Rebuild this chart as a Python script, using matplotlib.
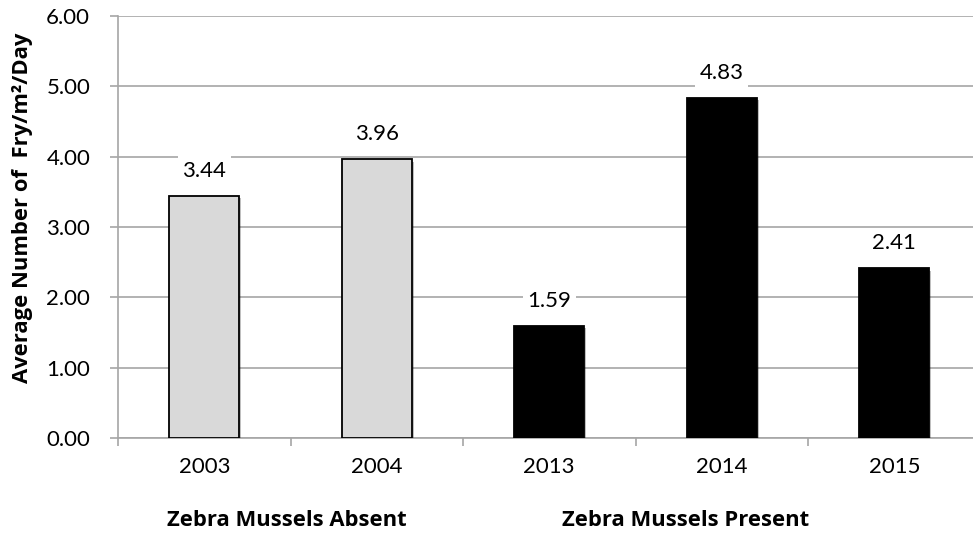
import matplotlib
matplotlib.use("Agg")
import matplotlib.pyplot as plt
import matplotlib.patheffects as pe
from matplotlib.transforms import blended_transform_factory

years = ["2003", "2004", "2013", "2014", "2015"]
fry_per_day = [3.44, 3.96, 1.59, 4.83, 2.41]
bar_colors = ["#d9d9d9", "#d9d9d9", "#000000", "#000000", "#000000"]
group_labels = ["Zebra Mussels Absent", "Zebra Mussels Present"]
group_label_x = [0.48, 2.79]
y_ticks = [0, 1, 2, 3, 4, 5, 6]

plt.rcParams["font.family"] = ["Lato", "DejaVu Sans"]
BOLD = ["Open Sans", "DejaVu Sans"]

W, H = 973, 533
fig = plt.figure(figsize=(W / 100, H / 100), dpi=100)
left, right, top, bottom = 118, 980.5, 16, 438
ax = fig.add_axes([left / W, 1 - bottom / H, (right - left) / W, (bottom - top) / H])

x = list(range(len(years)))
bars = ax.bar(x, fry_per_day, width=0.405, color=bar_colors,
              edgecolor="#000000", linewidth=1.3, zorder=3)
for b in bars:
    b.set_path_effects([pe.SimplePatchShadow(offset=(1.5, -1.5), shadow_rgbFace="#000000", alpha=0.25),
                        pe.Normal()])

for xi, v in zip(x, fry_per_day):
    ax.annotate(f"{v:.2f}", (xi, v), xytext=(0, 11), textcoords="offset points",
                ha="center", va="bottom", fontsize=16,
                bbox=dict(boxstyle="square,pad=0.2", fc="white", ec="none"), zorder=4)

ax.set_xlim(-0.5, len(years) - 0.5)
ax.set_ylim(0, 6)
ax.set_yticks(y_ticks)
ax.set_yticklabels([f"{t:.2f}" for t in y_ticks], fontsize=16)
ax.yaxis.grid(True, color="#a6a6a6", linewidth=1.2, zorder=0)
ax.set_axisbelow(True)

ax.set_xticks([i + 0.5 for i in range(-1, len(years))])
ax.set_xticklabels([])
ax.set_xticks(x, minor=True)
ax.set_xticklabels(years, minor=True, fontsize=16)
ax.tick_params(axis="x", which="major", length=6, color="#a6a6a6", width=1.2)
ax.tick_params(axis="x", which="minor", length=0, pad=14)
ax.tick_params(axis="y", length=6, color="#a6a6a6", width=1.2, pad=14)

for s in ["top", "right"]:
    ax.spines[s].set_visible(False)
for s in ["left", "bottom"]:
    ax.spines[s].set_color("#a6a6a6")
    ax.spines[s].set_linewidth(1.2)

fig.text(23 / W, 1 - 208 / H, "Average Number of  Fry/m²/Day", rotation=90,
         ha="center", va="center", fontsize=15.8, fontweight="bold", family=BOLD)

trans = blended_transform_factory(ax.transData, fig.transFigure)
for lbl, gx in zip(group_labels, group_label_x):
    ax.text(gx, 1 - 520 / H, lbl, transform=trans, ha="center", va="center",
            fontsize=15.8, fontweight="bold", family=BOLD)

fig.savefig("out.png", dpi=100)
